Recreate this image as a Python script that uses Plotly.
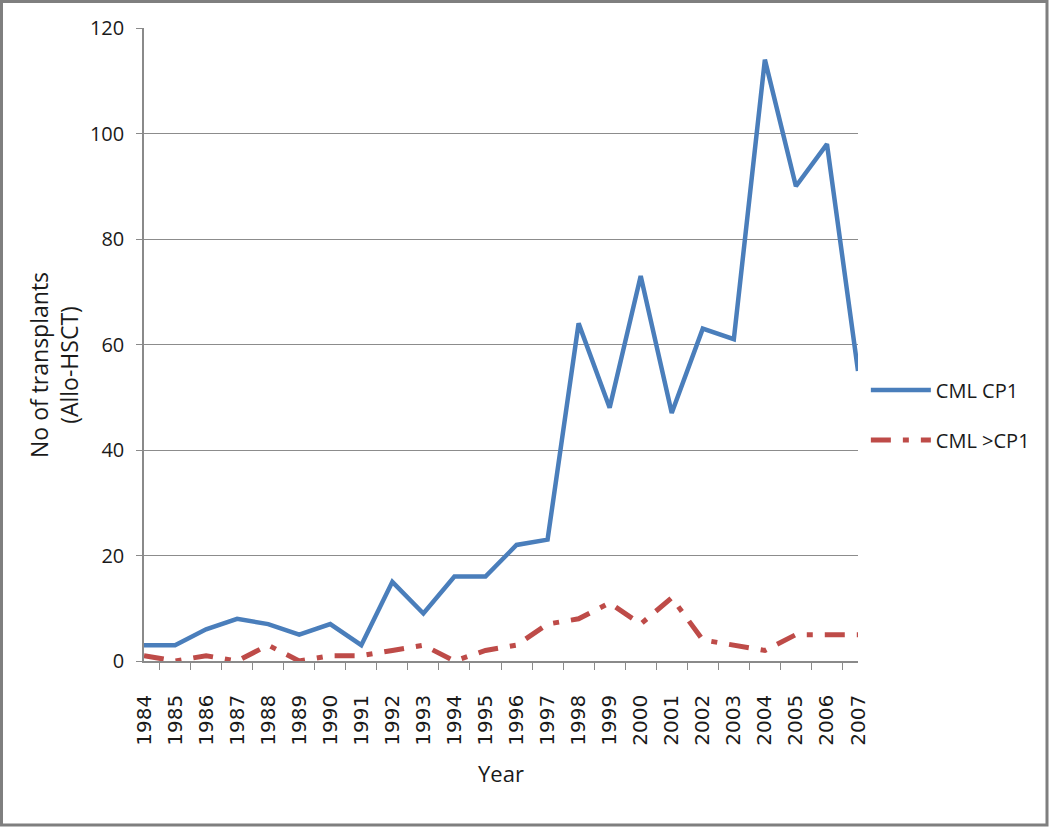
import plotly.graph_objects as go

years = [str(y) for y in range(1984, 2008)]
cml_cp1 = [3, 3, 6, 8, 7, 5, 7, 3, 15, 9, 16, 16, 22, 23, 64, 48, 73, 47, 63, 61, 114, 90, 98, 55]
cml_gt_cp1 = [1, 0, 1, 0, 3, 0, 1, 1, 2, 3, 0, 2, 3, 7, 8, 11, 7, 12, 4, 3, 2, 5, 5, 5]
y_ticks = [0, 20, 40, 60, 80, 100, 120]

font_main = "Open Sans"
axis_gray = "#8a8a8a"

fig = go.Figure()
fig.add_trace(go.Scatter(x=years, y=cml_cp1, mode="lines", name="CML CP1",
                         line=dict(color="#4A7EBB", width=4.5), legendgroup="a"))
fig.add_trace(go.Scatter(x=years, y=cml_gt_cp1, mode="lines", name="CML >CP1",
                         line=dict(color="#BE4B48", width=5, dash="20px,12px,6px,12px"),
                         legendgroup="b"))

fig.update_layout(
    width=1050, height=827,
    paper_bgcolor="white", plot_bgcolor="white",
    margin=dict(l=144, r=192, t=28, b=166),
    font=dict(family=font_main, color="#1a1a1a"),
    showlegend=True,
    legend=dict(x=1.011, xanchor="left", y=0.459, yanchor="top",
                font=dict(size=20, family=font_main), traceorder="grouped",
                itemwidth=60,
                tracegroupgap=21, bgcolor="rgba(0,0,0,0)"),
    xaxis=dict(type="category", tickson="boundaries", ticks="outside", ticklen=7,
               tickcolor=axis_gray, showline=True, linecolor=axis_gray, linewidth=1.5,
               showgrid=False, tickangle=-90, ticklabelstandoff=24,
               tickfont=dict(size=20, family="DejaVu Sans", color="#1a1a1a"),
               title=dict(text="Year", font=dict(size=22, family=font_main), standoff=22)),
    yaxis=dict(range=[0, 120], tickvals=y_ticks, ticks="outside", ticklen=6,
               tickcolor=axis_gray, showline=True, linecolor=axis_gray, linewidth=1.5,
               showgrid=True, gridcolor="#8c8c8c", gridwidth=1.3, zeroline=False,
               ticklabelstandoff=8,
               tickfont=dict(size=20, family=font_main, color="#1a1a1a")),
)

# y-axis title placed as an annotation (sits slightly below the plot centre in the original)
fig.add_annotation(text="No of transplants<br>(Allo-HSCT)", textangle=-90,
                   xref="paper", yref="paper", x=(54 - 144) / 714, y=(661 - 365) / 633,
                   xanchor="center", yanchor="middle", showarrow=False,
                   font=dict(size=23, family=font_main, color="#1a1a1a"))

# outer chart border
fig.add_shape(type="rect", xref="paper", yref="paper",
              x0=(1.5 - 144) / 714, x1=(1047 - 144) / 714,
              y0=(661 - 825) / 633, y1=(661 - 1.5) / 633,
              line=dict(color="#7f7f7f", width=3), layer="below")

fig.write_html("out.html", config={"displayModeBar": False},
               post_script="document.body.style.margin='0';")
